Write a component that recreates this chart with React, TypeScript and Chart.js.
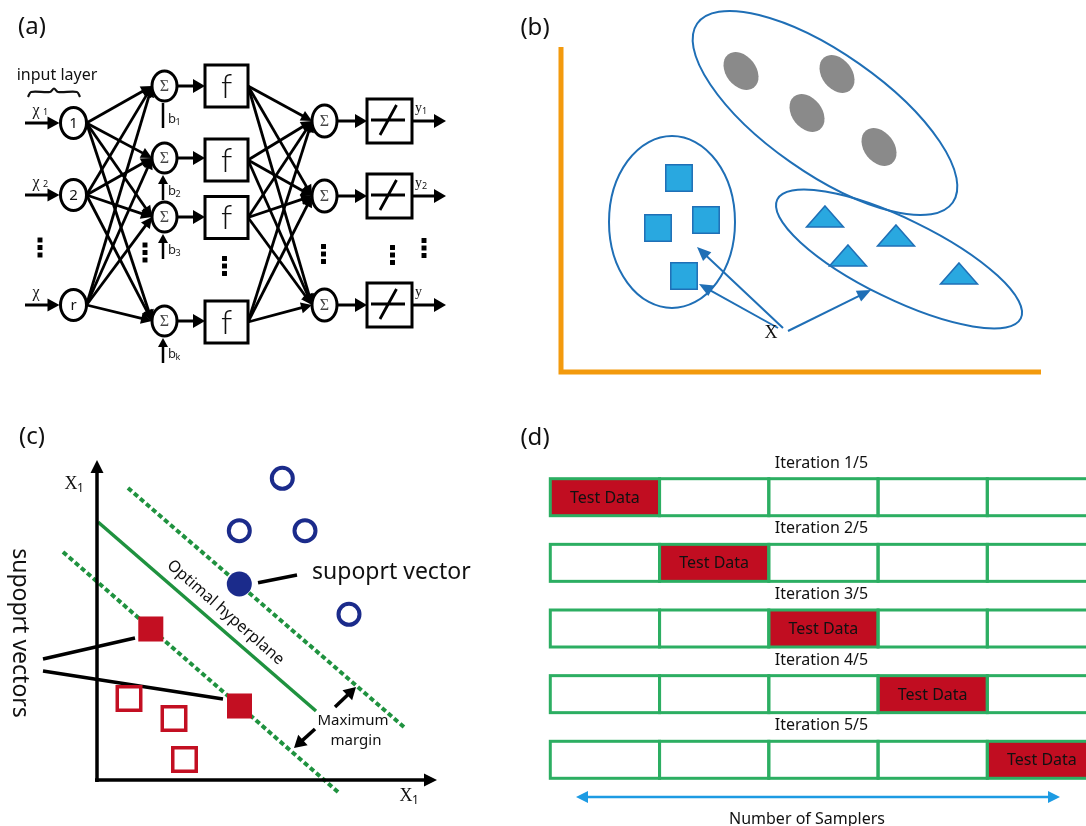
import React, { useEffect, useRef } from 'react';
import { Chart, registerables } from 'chart.js';

Chart.register(...registerables);

const CANVAS_W = 1086;
const CANVAS_H = 826;

type Pt = { x: number; y: number };

// ---------------- panel captions ----------------
const panelCaptions = ['(a)', '(b)', '(c)', '(d)'];
const panelCaptionAnchors: Pt[] = [
  { x: 32, y: 27 }, { x: 535, y: 28 }, { x: 32, y: 437 }, { x: 535, y: 438 },
];

// ---------------- (a) feed-forward network ----------------
const inputNodeNames = ['1', '2', 'r'];
const inputNodeY = [123, 195, 305];
const inputSubscripts = ['1', '2', ''];
const hiddenSumY = [86, 158, 217, 321];
const biasSubscripts = ['1', '2', '3', 'k'];
const transferBoxY = [86, 160, 217.5, 322];
const outputSumY = [121, 196, 305];
const outputSubscripts = ['1', '2', ''];
const ellipsisCenters: Pt[] = [
  { x: 40, y: 247.5 }, { x: 145, y: 252.5 }, { x: 224.5, y: 266 },
  { x: 323.5, y: 254 }, { x: 392.5, y: 255 }, { x: 424, y: 248 },
];
const braceOutline: Pt[] = [
  { x: 28, y: 97 }, { x: 31, y: 92 }, { x: 50, y: 92 }, { x: 54, y: 88.5 },
  { x: 58, y: 92 }, { x: 77, y: 92 }, { x: 80, y: 97 },
];

// ---------------- (b) clustering ----------------
const featureAxes: Pt[] = [{ x: 561, y: 47 }, { x: 561, y: 372 }, { x: 1041, y: 372 }];
const clusterOutlines = [
  { x: 825, y: 113, rx: 156, ry: 60, angle: 35 },
  { x: 672, y: 222, rx: 63, ry: 86, angle: 0 },
  { x: 899, y: 259, rx: 135.5, ry: 40, angle: 26 },
];
const greyPoints: Pt[] = [{ x: 741, y: 71 }, { x: 837, y: 74 }, { x: 807, y: 113 }, { x: 879, y: 147 }];
const squarePoints: Pt[] = [{ x: 679, y: 178 }, { x: 658, y: 228 }, { x: 706, y: 220 }, { x: 684, y: 276 }];
const trianglePoints: Pt[] = [{ x: 825, y: 216.5 }, { x: 896, y: 235.5 }, { x: 848, y: 255.5 }, { x: 959, y: 273.5 }];
const queryPoint: Pt = { x: 771, y: 333 };
const queryArrowStarts: Pt[] = [{ x: 783, y: 328 }, { x: 778, y: 328 }, { x: 788, y: 331 }];
const queryArrowTargets: Pt[] = [{ x: 697, y: 247 }, { x: 699, y: 284 }, { x: 871, y: 290 }];

// ---------------- (c) SVM ----------------
const svmOrigin: Pt = { x: 97, y: 780 };
const svmAxisTips: Pt[] = [{ x: 97, y: 460 }, { x: 437, y: 780 }];
const classACircles: Pt[] = [{ x: 282.3, y: 478.3 }, { x: 239.3, y: 530.7 }, { x: 305, y: 530.7 }, { x: 349, y: 614.3 }];
const classASupport: Pt[] = [{ x: 239.3, y: 584 }];
const classBSquares: Pt[] = [{ x: 129, y: 698.5 }, { x: 174, y: 718.5 }, { x: 184.5, y: 759.5 }];
const classBSupport: Pt[] = [{ x: 150.8, y: 629 }, { x: 239.5, y: 706 }];
const hyperplane: Pt[] = [{ x: 98, y: 522 }, { x: 316, y: 711 }];
const marginUpper: Pt[] = [{ x: 128, y: 488 }, { x: 404, y: 727 }];
const marginLower: Pt[] = [{ x: 63, y: 552 }, { x: 338, y: 792 }];
const supportLinks: Pt[][] = [
  [{ x: 43, y: 659 }, { x: 135, y: 638 }],
  [{ x: 43, y: 671 }, { x: 223, y: 699 }],
  [{ x: 258, y: 582.7 }, { x: 297, y: 575 }],
];
const marginArrows: Pt[][] = [
  [{ x: 335, y: 707 }, { x: 356, y: 687 }],
  [{ x: 315, y: 729 }, { x: 294, y: 748 }],
];

// ---------------- (d) 5-fold cross validation ----------------
const foldCount = 5;
const iterations = [1, 2, 3, 4, 5];
const testFoldIndex = [0, 1, 2, 3, 4];
const iterationLabels = iterations.map((i) => `Iteration ${i}/5`);
const sampleAxis: Pt[] = [{ x: 576, y: 797 }, { x: 1060, y: 797 }];

// ---------------- layout & style ----------------
const NET = {
  inputX: 73.5, hiddenX: 164.5, transferX: 226.5, outSumX: 324.5, linearX: 389.5,
  nodeRx: 13, nodeRy: 15.5, sumRx: 12.5, sumRy: 15, boxW: 43, boxH: 42, linW: 45, linH: 44,
  inStartX: 25, outEndX: 446, biasX: 163,
};
const FOLD = { x0: 550.3, w: 109.25, y0: 478.7, step: 65.65, h: 37 };

const BLACK = '#111111';
const ORANGE = '#f39a0d';
const BLUE_B = '#1f6fb6';
const CYAN_FILL = '#29a8e0';
const GREY = '#8a8a8a';
const NAVY = '#1b2b8b';
const RED_C = '#c30f22';
const GREEN_C = '#1f923f';
const GREEN_D = '#2cae62';
const RED_D = '#c10d21';
const BLUE_D = '#1d9be3';
const SANS = '"Noto Sans", "Liberation Sans", sans-serif';
const SERIF = '"Liberation Serif", "DejaVu Serif", serif';
const THIN = 'Lato, "Noto Sans", sans-serif';

type Arrow = { from: Pt; to: Pt; color: string; width: number; head?: [number, number]; both?: boolean };

function buildArrows(): Arrow[] {
  const list: Arrow[] = [];
  const k = '#000000';
  inputNodeY.forEach((y) => list.push({ from: { x: NET.inStartX, y }, to: { x: NET.inputX - NET.nodeRx - 1, y }, color: k, width: 3, head: [12, 6.5] }));
  inputNodeY.forEach((y0) => hiddenSumY.forEach((y1) => list.push({ from: { x: NET.inputX + NET.nodeRx, y: y0 }, to: { x: NET.hiddenX - NET.sumRx, y: y1 }, color: k, width: 2.8, head: [11, 5.5] })));
  hiddenSumY.forEach((y) => list.push({ from: { x: NET.hiddenX + NET.sumRx, y }, to: { x: NET.transferX - NET.boxW / 2, y }, color: k, width: 3, head: [12, 7] }));
  hiddenSumY.forEach((y, i) => list.push({ from: { x: NET.biasX, y: y + 42 }, to: { x: NET.biasX, y: y + NET.sumRy + 2 }, color: k, width: 2.5, head: i === 0 ? undefined : [9, 5] }));
  transferBoxY.forEach((y0) => outputSumY.forEach((y1) => list.push({ from: { x: NET.transferX + NET.boxW / 2, y: y0 }, to: { x: NET.outSumX - NET.sumRx, y: y1 }, color: k, width: 2.8, head: [11, 5.5] })));
  outputSumY.forEach((y) => list.push({ from: { x: NET.outSumX + NET.sumRx, y }, to: { x: NET.linearX - NET.linW / 2, y }, color: k, width: 3, head: [12, 7] }));
  outputSumY.forEach((y) => list.push({ from: { x: NET.linearX + NET.linW / 2, y }, to: { x: NET.outEndX, y }, color: k, width: 3, head: [12, 7] }));
  queryArrowTargets.forEach((t, i) => list.push({ from: queryArrowStarts[i], to: t, color: BLUE_B, width: 2, head: [14, 6] }));
  list.push({ from: { x: svmOrigin.x, y: svmOrigin.y + 2 }, to: svmAxisTips[0], color: k, width: 3.5, head: [13, 6.5] });
  list.push({ from: { x: svmOrigin.x - 2, y: svmOrigin.y }, to: svmAxisTips[1], color: k, width: 3.5, head: [13, 6.5] });
  marginArrows.forEach((m) => list.push({ from: m[0], to: m[1], color: k, width: 3.5, head: [12, 7] }));
  list.push({ from: sampleAxis[0], to: sampleAxis[1], color: BLUE_D, width: 2.5, head: [12, 6], both: true });
  return list;
}
const arrows = buildArrows();

function lineDs(points: Pt[], color: string, width: number, dash: number[] = [], tension = 0) {
  return {
    type: 'scatter', data: points, showLine: true, borderColor: color, borderWidth: width,
    borderDash: dash, pointRadius: 0, pointHoverRadius: 0, fill: false, tension, order: 2,
    borderCapStyle: 'butt', borderJoinStyle: 'miter',
  };
}
function pointDs(points: Pt[], style: string, radius: number, bg: string, border: string, bw: number) {
  return {
    type: 'scatter', data: points, pointStyle: style, pointRadius: radius, pointHoverRadius: radius,
    backgroundColor: bg, borderColor: border, borderWidth: bw, order: 0, showLine: false,
  };
}

function buildDatasets() {
  const ds: any[] = [];
  arrows.forEach((a) => {
    const dx = a.to.x - a.from.x;
    const dy = a.to.y - a.from.y;
    const d = Math.hypot(dx, dy);
    const ux = dx / d;
    const uy = dy / d;
    const cut = a.head ? a.head[0] * 0.7 : 0;
    const end = { x: a.to.x - ux * cut, y: a.to.y - uy * cut };
    const start = a.both ? { x: a.from.x + ux * cut, y: a.from.y + uy * cut } : a.from;
    ds.push(lineDs([start, end], a.color, a.width));
  });
  ds.push(lineDs(braceOutline, BLACK, 2.2, [], 0.3));
  ds.push(lineDs(featureAxes, ORANGE, 5));
  supportLinks.forEach((l) => ds.push(lineDs(l, '#000000', 3.5)));
  ds.push(lineDs(hyperplane, GREEN_C, 3.5));
  ds.push(lineDs(marginUpper, GREEN_C, 4, [5, 3]));
  ds.push(lineDs(marginLower, GREEN_C, 4, [5, 3]));
  const dots: Pt[] = [];
  ellipsisCenters.forEach((c) => [-7.5, 0, 7.5].forEach((o) => dots.push({ x: c.x, y: c.y + o })));
  ds.push(pointDs(dots, 'rect', 3.5, '#000000', '#000000', 0));
  ds.push(pointDs(squarePoints, 'rect', 18.7, CYAN_FILL, BLUE_B, 1.5));
  ds.push(pointDs(classACircles, 'circle', 10.5, '#ffffff', NAVY, 4));
  ds.push(pointDs(classASupport, 'circle', 12.5, NAVY, NAVY, 0));
  ds.push(pointDs(classBSquares, 'rect', 16.6, '#ffffff', RED_C, 3.5));
  ds.push(pointDs(classBSupport, 'rect', 17.7, RED_C, RED_C, 0));
  return ds;
}

type Label = { text: string; x: number; y: number; font: string; color?: string; align?: CanvasTextAlign; rotate?: number };

function buildLabels(): Label[] {
  const L: Label[] = [];
  panelCaptions.forEach((t, i) => L.push({ text: t, x: panelCaptionAnchors[i].x, y: panelCaptionAnchors[i].y, font: `24px ${SANS}` }));
  L.push({ text: 'input layer', x: 57, y: 75, font: `16px ${SANS}` });
  inputNodeY.forEach((y, i) => {
    L.push({ text: inputNodeNames[i], x: NET.inputX, y: y + 1, font: `15px ${SANS}` });
    L.push({ text: 'χ', x: 36, y: y - 12.5, font: `16px ${SERIF}` });
    if (inputSubscripts[i]) L.push({ text: inputSubscripts[i], x: 45.5, y: y - 11, font: `9px ${SANS}` });
  });
  hiddenSumY.forEach((y, i) => {
    L.push({ text: 'Σ', x: NET.hiddenX, y: y + 1, font: `16px ${SERIF}`, color: '#444' });
    L.push({ text: 'b', x: 168, y: y + 33.5, font: `13px ${SANS}`, color: '#222', align: 'left' });
    L.push({ text: biasSubscripts[i], x: 175.5, y: y + 36, font: `9px ${SANS}`, color: '#222', align: 'left' });
  });
  transferBoxY.forEach((y) => L.push({ text: 'f', x: NET.transferX, y: y + 1, font: `300 33px ${THIN}`, color: '#111' }));
  outputSumY.forEach((y, i) => {
    L.push({ text: 'Σ', x: NET.outSumX, y: y + 1, font: `16px ${SERIF}`, color: '#444' });
    L.push({ text: 'y', x: 415, y: y - 13, font: `14px ${SERIF}`, align: 'left' });
    if (outputSubscripts[i]) L.push({ text: outputSubscripts[i], x: 422, y: y - 10, font: `9px ${SANS}`, align: 'left' });
  });
  L.push({ text: 'X', x: queryPoint.x, y: queryPoint.y, font: `18px ${SERIF}` });
  L.push({ text: 'X', x: 71, y: 484, font: `18px ${SERIF}` });
  L.push({ text: '1', x: 80.5, y: 489, font: `12px ${SANS}` });
  L.push({ text: 'X', x: 406, y: 796, font: `18px ${SERIF}` });
  L.push({ text: '1', x: 415.5, y: 801, font: `12px ${SANS}` });
  L.push({ text: 'supoprt vectors', x: 19.5, y: 633, font: `23px ${SANS}`, rotate: 90 });
  L.push({ text: 'supoprt vector', x: 312, y: 572, font: `23px ${SANS}`, align: 'left' });
  L.push({ text: 'Optimal hyperplane', x: 225.5, y: 612.5, font: `16px ${SANS}`, rotate: 41.3 });
  L.push({ text: 'Maximum', x: 353, y: 721, font: `15px ${SANS}` });
  L.push({ text: 'margin', x: 356, y: 741, font: `15px ${SANS}` });
  iterations.forEach((_, r) => {
    const top = FOLD.y0 + r * FOLD.step;
    L.push({ text: iterationLabels[r], x: 821.5, y: top - 15.5, font: `16px ${SANS}` });
    const c = testFoldIndex[r];
    L.push({ text: 'Test Data', x: FOLD.x0 + (c + 0.5) * FOLD.w, y: top + FOLD.h / 2 + 1, font: `16px ${SANS}` });
  });
  L.push({ text: 'Number of Samplers', x: 807, y: 819, font: `16px ${SANS}` });
  return L;
}
const labels = buildLabels();

const diagramPlugin = {
  id: 'diagram',
  beforeDatasetsDraw(chart: any) {
    const ctx: CanvasRenderingContext2D = chart.ctx;
    const X = (v: number) => chart.scales.x.getPixelForValue(v);
    const Y = (v: number) => chart.scales.y.getPixelForValue(v);
    const S = X(1) - X(0);
    ctx.save();
    clusterOutlines.forEach((e) => {
      ctx.beginPath();
      ctx.ellipse(X(e.x), Y(e.y), e.rx * S, e.ry * S, (e.angle * Math.PI) / 180, 0, Math.PI * 2);
      ctx.strokeStyle = BLUE_B;
      ctx.lineWidth = 2;
      ctx.stroke();
    });
    greyPoints.forEach((p) => {
      ctx.beginPath();
      ctx.ellipse(X(p.x), Y(p.y), 21 * S, 15 * S, (52 * Math.PI) / 180, 0, Math.PI * 2);
      ctx.fillStyle = GREY;
      ctx.fill();
    });
    iterations.forEach((_, r) => {
      const top = Y(FOLD.y0 + r * FOLD.step);
      const h = FOLD.h * S;
      for (let c = 0; c < foldCount; c++) {
        const left = X(FOLD.x0 + c * FOLD.w);
        const w = FOLD.w * S;
        if (c === testFoldIndex[r]) {
          ctx.fillStyle = RED_D;
          ctx.fillRect(left, top, w, h);
        }
      }
      ctx.strokeStyle = GREEN_D;
      ctx.lineWidth = 3;
      for (let c = 0; c < foldCount; c++) {
        ctx.strokeRect(X(FOLD.x0 + c * FOLD.w), top, FOLD.w * S, h);
      }
    });
    ctx.restore();
  },
  afterDatasetsDraw(chart: any) {
    const ctx: CanvasRenderingContext2D = chart.ctx;
    const X = (v: number) => chart.scales.x.getPixelForValue(v);
    const Y = (v: number) => chart.scales.y.getPixelForValue(v);
    const S = X(1) - X(0);
    ctx.save();
    const node = (cx: number, cy: number, rx: number, ry: number) => {
      ctx.beginPath();
      ctx.ellipse(X(cx), Y(cy), rx * S, ry * S, 0, 0, Math.PI * 2);
      ctx.fillStyle = '#ffffff';
      ctx.fill();
      ctx.strokeStyle = '#000000';
      ctx.lineWidth = 3;
      ctx.stroke();
    };
    const box = (cx: number, cy: number, w: number, h: number) => {
      ctx.fillStyle = '#ffffff';
      ctx.fillRect(X(cx - w / 2), Y(cy - h / 2), w * S, h * S);
      ctx.strokeStyle = '#000000';
      ctx.lineWidth = 3;
      ctx.strokeRect(X(cx - w / 2), Y(cy - h / 2), w * S, h * S);
    };
    inputNodeY.forEach((y) => node(NET.inputX, y, NET.nodeRx, NET.nodeRy));
    hiddenSumY.forEach((y) => node(NET.hiddenX, y, NET.sumRx, NET.sumRy));
    transferBoxY.forEach((y) => box(NET.transferX, y, NET.boxW, NET.boxH));
    outputSumY.forEach((y) => node(NET.outSumX, y, NET.sumRx, NET.sumRy + 1));
    outputSumY.forEach((y) => {
      box(NET.linearX, y, NET.linW, NET.linH);
      ctx.beginPath();
      ctx.moveTo(X(NET.linearX - 18.5), Y(y - 1));
      ctx.lineTo(X(NET.linearX + 15.5), Y(y - 1));
      ctx.moveTo(X(NET.linearX - 9.5), Y(y + 14));
      ctx.lineTo(X(NET.linearX + 7), Y(y - 16));
      ctx.lineWidth = 2.8;
      ctx.stroke();
    });
    trianglePoints.forEach((p) => {
      const w = 37;
      const h = 21;
      ctx.beginPath();
      ctx.moveTo(X(p.x), Y(p.y - h / 2));
      ctx.lineTo(X(p.x + w / 2), Y(p.y + h / 2));
      ctx.lineTo(X(p.x - w / 2), Y(p.y + h / 2));
      ctx.closePath();
      ctx.fillStyle = CYAN_FILL;
      ctx.fill();
      ctx.strokeStyle = BLUE_B;
      ctx.lineWidth = 1.5;
      ctx.stroke();
    });
    const head = (tip: Pt, from: Pt, len: number, hw: number, color: string) => {
      const tx = X(tip.x), ty = Y(tip.y), fx = X(from.x), fy = Y(from.y);
      const d = Math.hypot(tx - fx, ty - fy);
      const ux = (tx - fx) / d, uy = (ty - fy) / d;
      const bx = tx - ux * len, by = ty - uy * len;
      ctx.beginPath();
      ctx.moveTo(tx, ty);
      ctx.lineTo(bx - uy * hw, by + ux * hw);
      ctx.lineTo(bx + uy * hw, by - ux * hw);
      ctx.closePath();
      ctx.fillStyle = color;
      ctx.fill();
    };
    arrows.forEach((a) => {
      if (!a.head) return;
      head(a.to, a.from, a.head[0], a.head[1], a.color);
      if (a.both) head(a.from, a.to, a.head[0], a.head[1], a.color);
    });
    labels.forEach((l) => {
      ctx.save();
      ctx.translate(X(l.x), Y(l.y));
      if (l.rotate) ctx.rotate((l.rotate * Math.PI) / 180);
      ctx.font = l.font;
      ctx.fillStyle = l.color || BLACK;
      ctx.textAlign = l.align || 'center';
      ctx.textBaseline = 'middle';
      ctx.fillText(l.text, 0, 0);
      ctx.restore();
    });
    ctx.restore();
  },
};

export default function App() {
  const canvasRef = useRef<HTMLCanvasElement | null>(null);
  useEffect(() => {
    const canvas = canvasRef.current;
    if (!canvas) return;
    const chart = new Chart(canvas, {
      type: 'scatter',
      data: { datasets: buildDatasets() as any },
      options: {
        responsive: false,
        maintainAspectRatio: false,
        animation: false,
        events: [],
        layout: { padding: 0, autoPadding: false },
        plugins: { legend: { display: false }, tooltip: { enabled: false } },
        scales: {
          x: { type: 'linear', min: 0, max: CANVAS_W, display: false },
          y: { type: 'linear', min: 0, max: CANVAS_H, reverse: true, display: false },
        },
      } as any,
      plugins: [diagramPlugin as any],
    });
    return () => chart.destroy();
  }, []);
  return (
    <div style={{ position: 'fixed', left: 0, top: 0, width: CANVAS_W, height: CANVAS_H, background: '#ffffff' }}>
      <canvas ref={canvasRef} width={CANVAS_W} height={CANVAS_H} style={{ display: 'block', width: CANVAS_W, height: CANVAS_H }} />
    </div>
  );
}
